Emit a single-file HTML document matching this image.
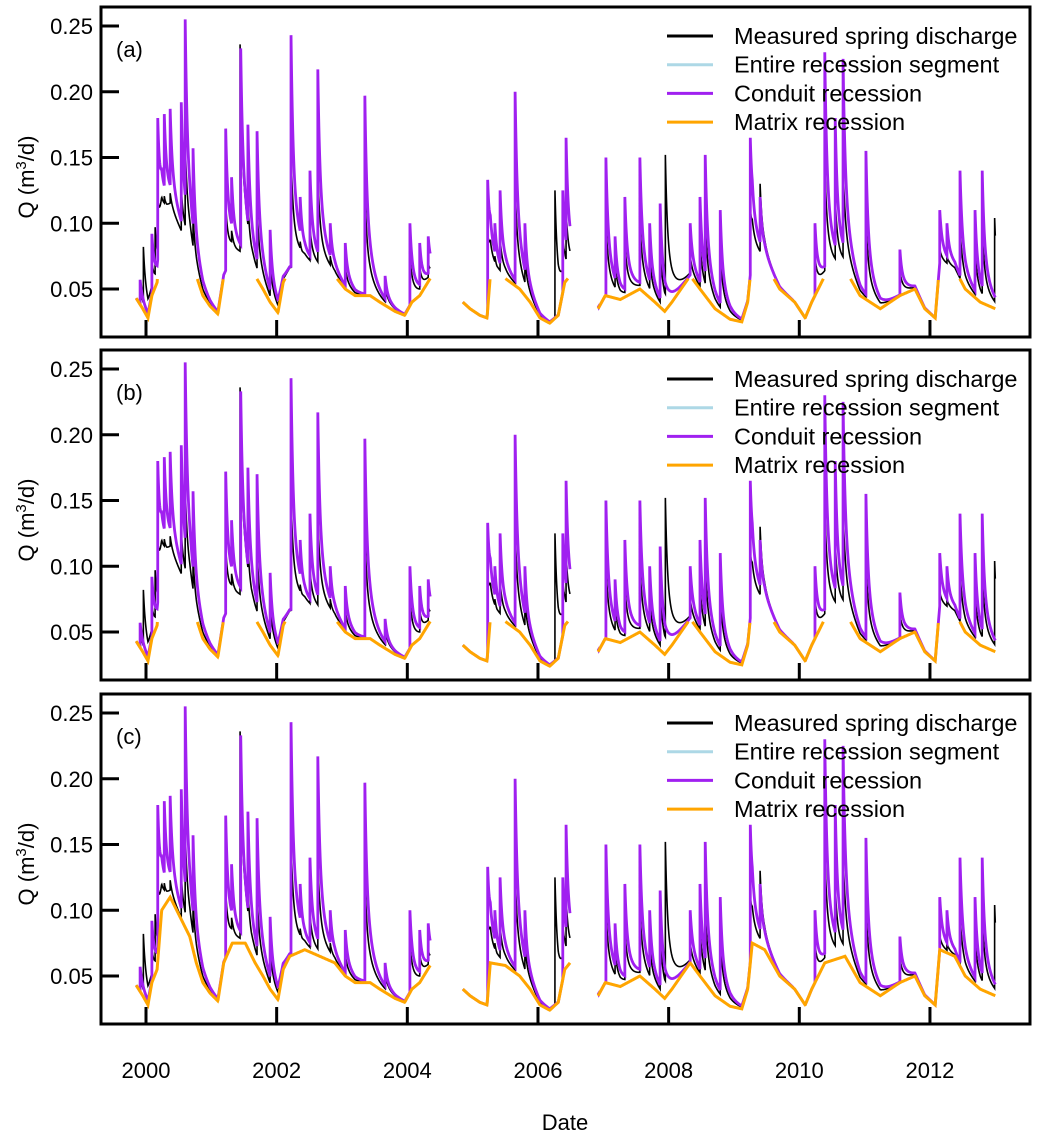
<!DOCTYPE html>
<html><head><meta charset="utf-8">
<style>
html,body{margin:0;padding:0;background:#fff;}
svg{display:block;font-family:"Liberation Sans",Arial,sans-serif;}
</style></head>
<body>
<svg id="chart" width="1045" height="1137" viewBox="0 0 1045 1137" xmlns="http://www.w3.org/2000/svg"></svg>
<script>
// ---- data ----
const baseDates = [1999.85,1999.95,2000.03,2000.09,2000.17,2000.24,2000.37,2000.52,2000.67,2000.77,2000.87,2000.98,2001.10,2001.19,2001.32,2001.52,2001.67,2001.79,2001.90,2002.02,2002.10,2002.20,2002.43,2002.66,2002.89,2003.05,2003.20,2003.43,2003.58,2003.81,2003.96,2004.07,2004.19,2004.35,null,2004.85,2004.96,2005.11,2005.22,2005.27,2005.50,2005.72,2005.88,2006.03,2006.18,2006.31,2006.41,2006.49,null,2006.92,2007.03,2007.26,2007.56,2007.79,2007.94,2008.05,2008.33,2008.48,2008.71,2008.94,2009.12,2009.21,2009.28,2009.47,2009.70,2009.93,2010.09,2010.19,2010.39,2010.70,2010.93,2011.24,2011.54,2011.77,2011.92,2012.08,2012.15,2012.38,2012.54,2012.77,2013.00];
const baseValues = [0.043,0.035,0.028,0.045,0.055,0.10,0.11,0.095,0.08,0.06,0.045,0.037,0.031,0.06,0.075,0.075,0.06,0.05,0.04,0.032,0.055,0.065,0.07,0.065,0.06,0.05,0.045,0.045,0.04,0.033,0.03,0.04,0.045,0.058,null,0.04,0.035,0.03,0.028,0.06,0.058,0.05,0.04,0.028,0.024,0.03,0.055,0.06,null,0.035,0.045,0.042,0.05,0.04,0.033,0.04,0.06,0.05,0.035,0.027,0.025,0.04,0.075,0.07,0.05,0.04,0.028,0.04,0.06,0.065,0.045,0.035,0.045,0.05,0.035,0.028,0.07,0.065,0.05,0.04,0.035];
const conduitDates = [1999.91,2000.09,2000.18,2000.28,2000.37,2000.54,2000.60,2000.72,2001.22,2001.31,2001.45,2001.56,2001.70,2001.90,2002.22,2002.36,2002.51,2002.63,2002.82,2003.05,2003.35,2003.66,2004.04,2004.19,2004.32,2005.23,2005.34,2005.42,2005.65,2005.80,2006.38,2006.43,2007.04,2007.18,2007.33,2007.56,2007.71,2007.87,2008.33,2008.48,2008.56,2008.79,2009.25,2009.40,2010.24,2010.39,2010.55,2010.67,2011.02,2011.54,2012.15,2012.26,2012.46,2012.69,2012.80];
const conduitPeaks = [0.057,0.092,0.18,0.183,0.187,0.192,0.255,0.157,0.172,0.135,0.233,0.175,0.17,0.095,0.243,0.12,0.14,0.217,0.10,0.085,0.197,0.06,0.10,0.085,0.09,0.133,0.10,0.125,0.20,0.10,0.125,0.165,0.15,0.09,0.12,0.15,0.10,0.115,0.10,0.12,0.152,0.11,0.165,0.12,0.10,0.23,0.18,0.225,0.155,0.08,0.11,0.10,0.14,0.11,0.14];
const measuredDates = [1999.96,2000.14,2001.44,2006.26,2007.95,2009.40,2012.99];
const measuredPeaks = [0.082,0.097,0.236,0.125,0.152,0.13,0.104];
const yTicks = [0.05,0.10,0.15,0.20,0.25];
const yTickLabels = ["0.05","0.10","0.15","0.20","0.25"];
const xTicks = [2000,2002,2004,2006,2008,2010,2012];
const panelLabels = ["(a)","(b)","(c)"];
const legendLabels = ["Measured spring discharge","Entire recession segment","Conduit recession","Matrix recession"];
const legendColors = ["#000000","#add8e6","#a020f0","#ffa500"];

// ---- layout ----
const NS="http://www.w3.org/2000/svg";
const svg=document.getElementById('chart');
const L=101,R=1030,panelTops=[7,350,694],PH=330;
const xs=t=>146+(t-2000)*65.33;
const ysF=top=>v=>top+282-(v-0.05)*1315;
function mk(tag,attrs,parent){const e=document.createElementNS(NS,tag);for(const k in attrs)e.setAttribute(k,attrs[k]);(parent||svg).appendChild(e);return e;}

const segs=[];let cur=[];
baseDates.forEach((d,i)=>{if(d===null){segs.push(cur);cur=[];}else cur.push([d,baseValues[i]]);});
segs.push(cur);
function baseAt(seg,t){for(let i=0;i<seg.length-1;i++){if(t>=seg[i][0]&&t<=seg[i+1][0]){const f=(t-seg[i][0])/(seg[i+1][0]-seg[i][0]);return seg[i][1]+f*(seg[i+1][1]-seg[i][1]);}}return seg[seg.length-1][1];}
function signal(seg,t,dates,peaks,tau){let b=baseAt(seg,t),add=0;dates.forEach((d,i)=>{if(t>=d&&t-d<0.5){const bb=baseAt(seg,Math.min(Math.max(d,seg[0][0]),seg[seg.length-1][0]));const a=peaks[i]-bb;add=Math.max(add,a*(0.55*Math.exp(-(t-d)/tau)+0.45*Math.exp(-(t-d)/(tau*4))));}});return b+add;}
function sampleTimes(seg,dates){const ts=[];for(let t=seg[0][0];t<=seg[seg.length-1][0]+1e-9;t+=0.004)ts.push(t);dates.forEach(d=>{if(d>=seg[0][0]&&d<=seg[seg.length-1][0]){ts.push(d-0.0005);ts.push(d);}});return ts.sort((a,b)=>a-b);}

panelTops.forEach((top,p)=>{
  const g=mk('g',{});
  
  
  const y=ysF(top);
  const clip=mk('clipPath',{id:'clip'+p},g);mk('rect',{x:L,y:top,width:R-L,height:PH},clip);
  const plot=mk('g',{'clip-path':'url(#clip'+p+')'},g);
  segs.forEach(seg=>{
    const allD=conduitDates.concat(measuredDates),allP=conduitPeaks.map(v=>v*0.55+0.02).concat(measuredPeaks);
    const ts=sampleTimes(seg,allD);
    const d=ts.map((t,i)=>(i?'L':'M')+xs(t).toFixed(2)+','+y(signal(seg,t,allD,allP,0.03)).toFixed(2)).join('');
    const e=mk('path',{d:d,fill:'none',stroke:'#000','stroke-width':1.6},plot);
    
    
  });
  segs.forEach(seg=>{
    const ts=sampleTimes(seg,conduitDates);
    const d=ts.map((t,i)=>(i?'L':'M')+xs(t).toFixed(2)+','+y(signal(seg,t,conduitDates,conduitPeaks,0.03)).toFixed(2)).join('');
    const e=mk('path',{d:d,fill:'none',stroke:'#a020f0','stroke-width':2.8},plot);
    
    
  });
  segs.forEach(seg=>{
    const ts=sampleTimes(seg,[]);
    let d='',pen=false;
    ts.forEach(t=>{const v=baseAt(seg,t);const show=(p===2)||v<0.058;if(show){d+=(pen?'L':'M')+xs(t).toFixed(2)+','+y(v).toFixed(2);pen=true;}else pen=false;});
    const e=mk('path',{d:d,fill:'none',stroke:'#ffa500','stroke-width':3},plot);
    
    
  });
  const fr=mk('rect',{x:L,y:top,width:R-L,height:PH,fill:'none',stroke:'#000','stroke-width':3},g);
  
  
  yTicks.forEach((v,i)=>{
    mk('line',{x1:L,x2:L+18,y1:y(v),y2:y(v),stroke:'#000','stroke-width':3},g);
    const tx=mk('text',{x:93,y:y(v)+8,'text-anchor':'end','font-size':22,fill:'#000'},g);
    tx.textContent=yTickLabels[i];
    
    
  });
  xTicks.forEach(t=>{mk('line',{x1:xs(t),x2:xs(t),y1:top+PH,y2:top+PH-17,stroke:'#000','stroke-width':3},g);});
  const yt=mk('text',{transform:'translate(34,'+(top+170)+') rotate(-90)','text-anchor':'middle','font-size':22,fill:'#000'},g);
  yt.innerHTML='Q (m<tspan dy="-8" font-size="15">3</tspan><tspan dy="8">/d)</tspan>';
  
  
  const pl=mk('text',{x:116,y:top+50,'font-size':22,fill:'#000'},g);
  pl.textContent=panelLabels[p];
  
  
  legendLabels.forEach((lab,i)=>{
    const ly=top+29+i*28.7;
    const ln=mk('line',{x1:667,x2:713,y1:ly,y2:ly,stroke:legendColors[i],'stroke-width':3},g);
    
    
    const lt=mk('text',{x:734,y:ly+8,'font-size':23.5,fill:'#000'},g);
    lt.textContent=lab;
    
    
  });
});
xTicks.forEach(t=>{
  const e=mk('text',{x:xs(t),y:1078,'text-anchor':'middle','font-size':22,fill:'#000'});
  e.textContent=String(t);
  
  
});
const xt=mk('text',{x:565,y:1130,'text-anchor':'middle','font-size':22,fill:'#000'});
xt.textContent='Date';


</script>
</body></html>
